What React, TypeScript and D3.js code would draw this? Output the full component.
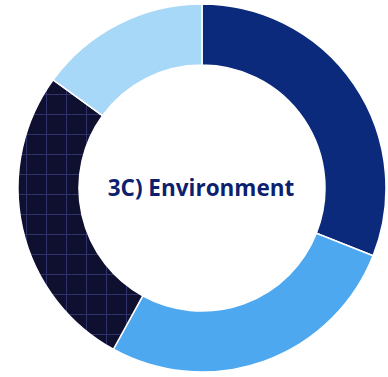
import React from "react";
import * as d3 from "d3";

const categories = ["A", "B", "C", "D"];
const values = [31, 27, 27, 15];
const colors = ["#0b2a7c", "#4ea8ef", "#0f1030", "#a8d8f8"];
const title = "3C) Environment";

export default function App() {
  const W = 388, H = 377;
  const cx = 202, cy = 188, R = 184, r = 123;
  const pie = d3.pie<number>().sort(null).value((d) => d);
  const arcs = pie(values);
  const arc = d3.arc<d3.PieArcDatum<number>>().innerRadius(r).outerRadius(R);
  return (
    <svg width={W} height={H} style={{ position: "absolute", left: 0, top: 0 }}>
      <defs>
        <pattern id="grid" width="20" height="20" patternUnits="userSpaceOnUse" x="4" y="6">
          <rect width="20" height="20" fill="#0f1030" />
          <line x1="0" y1="0.5" x2="20" y2="0.5" stroke="#30336a" strokeWidth="1" />
          <line x1="0.5" y1="0" x2="0.5" y2="20" stroke="#30336a" strokeWidth="1" />
        </pattern>
      </defs>
      <rect width={W} height={H} fill="#ffffff" />
      <g transform={`translate(${cx},${cy})`}>
        {arcs.map((a, i) => (
          <path
            key={categories[i]}
            d={arc(a) || ""}
            fill={i === 2 ? "url(#grid)" : colors[i]}
            stroke="#ffffff"
            strokeWidth={1.5}
          />
        ))}
        <text
          x={-1}
          y={8}
          textAnchor="middle"
          fontFamily="'Open Sans', sans-serif"
          fontWeight="bold"
          fontSize={22.5}
          fill="#0d1f6e"
        >
          {title}
        </text>
      </g>
    </svg>
  );
}
